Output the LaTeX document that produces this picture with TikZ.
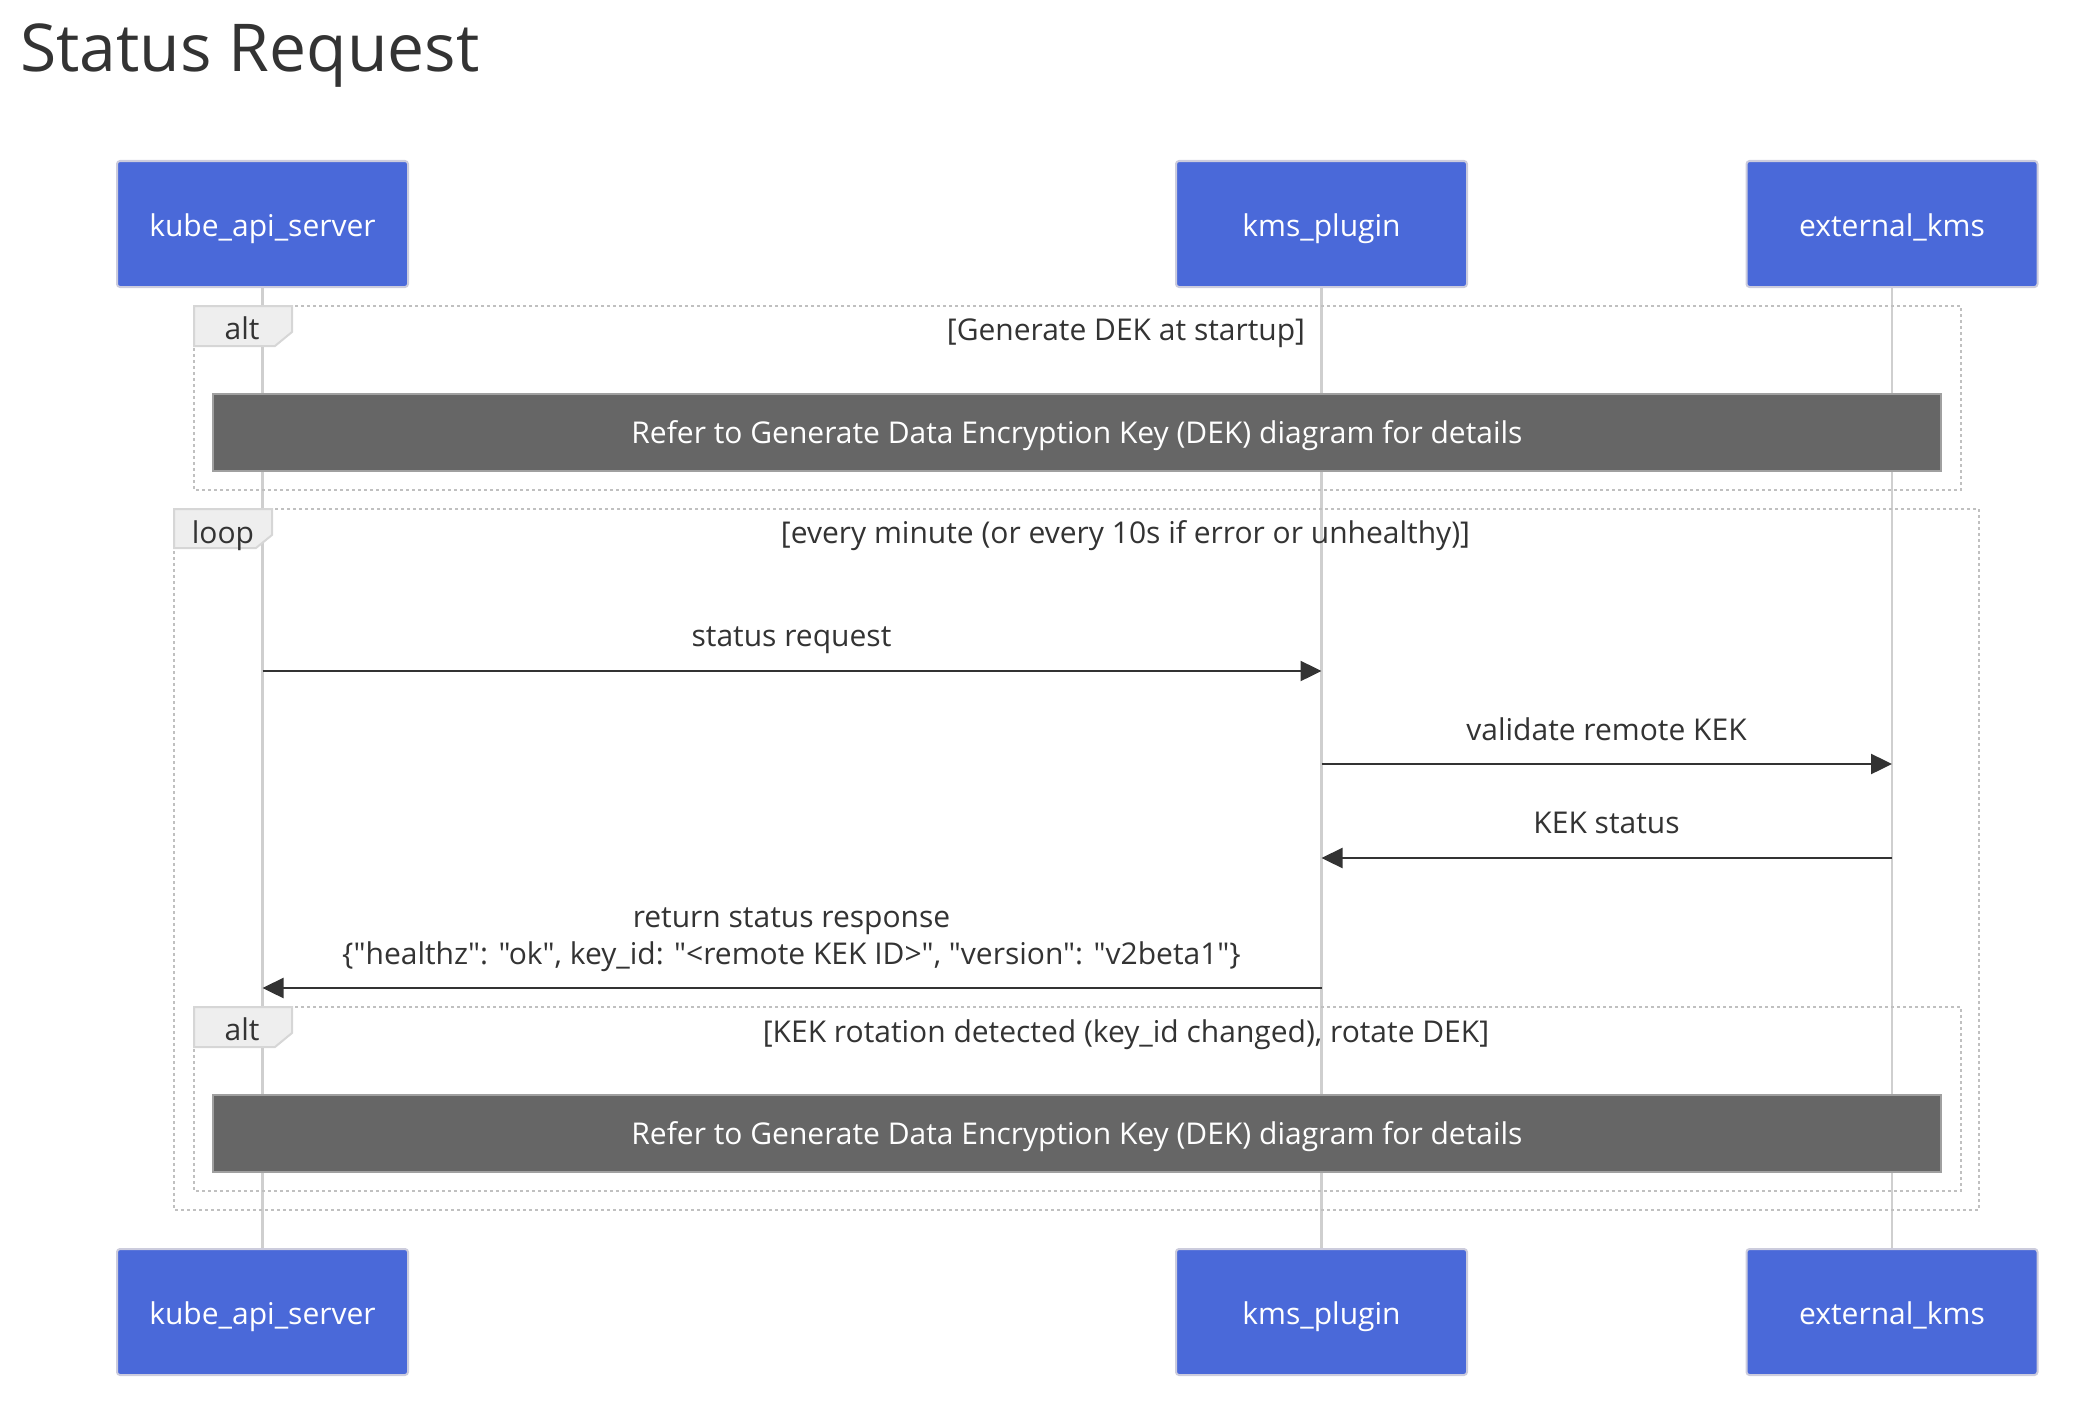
\documentclass[tikz,border=0pt]{standalone}
\usepackage{fontspec}
\setmainfont{Open Sans}[Ligatures=TeXOff]
\usetikzlibrary{arrows.meta}
\definecolor{actorblue}{HTML}{4A69D9}
\definecolor{actorline}{HTML}{CCCCDD}
\definecolor{notegray}{HTML}{666666}
\definecolor{noteborder}{HTML}{A0A0A0}
\definecolor{lifegray}{HTML}{CFCFCF}
\definecolor{framegray}{HTML}{C0C0C0}
\definecolor{tabfill}{HTML}{EEEEEE}
\definecolor{tabline}{HTML}{D6D6D6}
\definecolor{txt}{HTML}{333333}
\newcommand{\lblfont}{\fontsize{30}{37}\selectfont}
\newcommand{\dq}{\symbol{34}}
\begin{document}
\begin{tikzpicture}[x=1pt,y=-1pt,
  actorbox/.style={draw=actorline, line width=2pt, fill=actorblue, rounded corners=3pt,
    minimum width=291pt, minimum height=126pt, inner sep=0pt, text=white, font=\lblfont,
    text height=24pt, text depth=0pt},
  notebox/.style={draw=noteborder, line width=2pt, fill=notegray, inner sep=0pt,
    text=white, font=\lblfont, minimum width=1728pt, minimum height=77pt,
    text height=22pt, text depth=0pt},
  lifeline/.style={draw=lifegray, line width=2.8pt},
  frame/.style={draw=framegray, line width=2.6pt, dash pattern=on 3pt off 3pt},
  tabshape/.style={draw=tabline, fill=tabfill, line width=2pt},
  lbl/.style={text=txt, font=\lblfont, inner sep=0pt, anchor=base, align=center},
  msg/.style={draw=txt, line width=2.4pt, -{Triangle[length=21pt,width=20pt]}}
]
\useasboundingbox (0,0) rectangle (2080,1410);

% title
\node[text=txt, font=\fontsize{66}{80}\selectfont, inner sep=0pt, anchor=base west] (title) at (20,72) {Status Request};

% actor boxes (top and bottom)
\node[actorbox] (kubeT) at (262.5,224) {kube\_api\_server};
\node[actorbox] (kmsT) at (1321.5,224) {kms\_plugin};
\node[actorbox] (extT) at (1892,224) {external\_kms};
\node[actorbox] (kubeB) at (262.5,1312) {kube\_api\_server};
\node[actorbox] (kmsB) at (1321.5,1312) {kms\_plugin};
\node[actorbox] (extB) at (1892,1312) {external\_kms};

% lifelines
\draw[lifeline] (kubeT.south) -- (kubeB.north);
\draw[lifeline] (kmsT.south) -- (kmsB.north);
\draw[lifeline] (extT.south) -- (extB.north);

% frames
\draw[frame] (194,306) rectangle (1961,490);
\draw[frame] (174,509) rectangle (1979,1210);
\draw[frame] (194,1007) rectangle (1961,1191);

% tabs
\draw[tabshape] (194,306) -- (292,306) -- (292,332) -- (275,346) -- (194,346) -- cycle;
\draw[tabshape] (174,509) -- (272,509) -- (272,535) -- (256,548) -- (174,548) -- cycle;
\draw[tabshape] (194,1007) -- (292,1007) -- (292,1033) -- (275,1047) -- (194,1047) -- cycle;

% frame labels
\node[lbl] (altA) at (242,339) {alt};
\node[lbl] (condA) at (1126,340) {[Generate DEK at startup]};
\node[lbl] (loopL) at (223,543) {loop};
\node[lbl] (condL) at (1125.5,543) {[every minute (or every 10s if error or unhealthy)]};
\node[lbl] (altB) at (242,1040) {alt};
\node[lbl] (condB) at (1126,1042) {[KEK rotation detected (key\_id changed), rotate DEK]};

% notes
\node[notebox] (note1) at (1077,432.5) {Refer to Generate Data Encryption Key (DEK) diagram for details};
\node[notebox] (note2) at (1077,1133.5) {Refer to Generate Data Encryption Key (DEK) diagram for details};

% message endpoints
\coordinate (m1a) at (kubeT.center |- 0,671);
\coordinate (m1b) at (kmsT.center |- 0,671);
\coordinate (m2a) at (kmsT.center |- 0,764);
\coordinate (m2b) at (extT.center |- 0,764);
\coordinate (m3a) at (extT.center |- 0,858);
\coordinate (m3b) at (kmsT.center |- 0,858);
\coordinate (m4a) at (kmsT.center |- 0,988);
\coordinate (m4b) at (kubeT.center |- 0,988);

\draw[msg] (m1a) -- (m1b);
\draw[msg] (m2a) -- (m2b);
\draw[msg] (m3a) -- (m3b);
\draw[msg] (m4a) -- (m4b);

% message labels
\node[lbl] (l1) at (791.5,646) {status request};
\node[lbl] (l2) at (1606.5,740) {validate remote KEK};
\node[lbl] (l3) at (1606.5,833) {KEK status};
\node[lbl] (l4) at (791.5,964) {return status response\\\{\dq healthz\dq: \dq ok\dq, key\_id: \dq<remote KEK ID>\dq, \dq version\dq: \dq v2beta1\dq\}};
\end{tikzpicture}
\end{document}
